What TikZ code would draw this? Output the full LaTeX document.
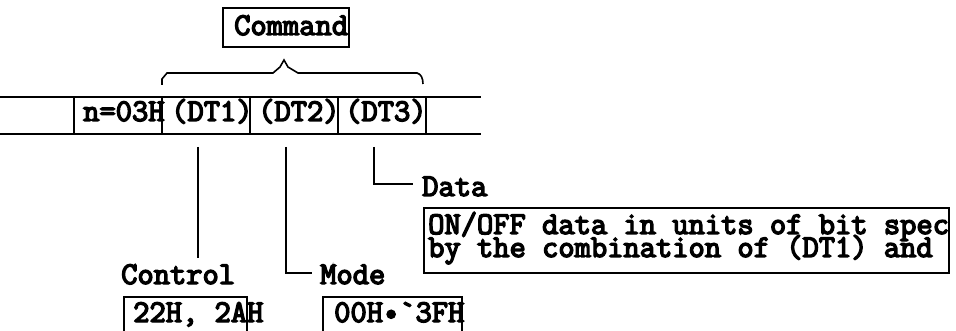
\documentclass[tikz,border=0pt]{standalone}
\usepackage{fontspec}
\newfontfamily\labelfont{Latin Modern Mono}[FakeBold=4.5]
\begin{document}
\begin{tikzpicture}[x=1pt,y=-1pt,
  every node/.style={font=\labelfont\fontsize{31.6}{24}\selectfont},
  txt/.style={anchor=base west,inner sep=0pt},
  cell/.style={draw,line width=1.6pt,minimum width=88pt,minimum height=37pt,inner sep=0pt},
  frame/.style={draw,line width=1.6pt},
  lead/.style={line width=1.6pt},
  brace/.style={line width=1.6pt}]
\useasboundingbox (0,0) rectangle (956,331);
\clip (0,0) rectangle (956,331);

% command label
\draw[frame] (223,8) rectangle (349,47);
\node[txt] (cmd) at (234,35) {Command};

% brace over the three data bytes
\draw[brace] (162,85) -- (162,79) -- (167,73) -- (273,73) -- (280,67) -- (284,60)
  -- (288,67) -- (298,73) -- (417,73) .. controls (421,74) and (423,78) .. (423,84);

% frame row
\draw[lead] (0,97) -- (481,97);
\draw[lead] (0,134) -- (481,134);
\node[cell] (c0) at (118,115.5) {};
\node[cell] (c1) at (206,115.5) {};
\node[cell] (c2) at (294,115.5) {};
\node[cell] (c3) at (382,115.5) {};
\node[txt] (n) at (83,121) {n=03H};
\node[txt] (dt1) at (171,121) {(DT1)};
\node[txt] (dt2) at (258,121) {(DT2)};
\node[txt] (dt3) at (345,121) {(DT3)};

% leader lines
\coordinate (ctlTop) at (198,147);
\coordinate (ctlEnd) at (198,258);
\coordinate (modeTop) at (286,147);
\coordinate (modeEnd) at (312,273);
\coordinate (dataTop) at (374,147);
\coordinate (dataEnd) at (413,184);
\draw[lead] (ctlTop) -- (ctlEnd);
\draw[lead] (modeTop) |- (modeEnd);
\draw[lead] (dataTop) |- (dataEnd);

% data description
\node[txt] (data) at (422,196) {Data};
\draw[frame] (424,208) rectangle (949,273);
\node[txt,text height=17pt,text depth=4pt] (d1) at (428,234) {ON/OFF data in units of bit spec};
\node[txt,text height=17pt,text depth=4pt] (d2) at (428,257) {by the combination of (DT1) and};

% control and mode values
\node[txt] (ctl) at (121,284) {Control};
\draw[frame] (124,297) rectangle (247,345);
\node[txt] (ctlv) at (133,322) {22H, 2AH};
\node[txt] (mode) at (320,284) {Mode};
\draw[frame] (323,297) rectangle (462,345);
\node[txt] (modev) at (334,322) {00H•`3FH};
\end{tikzpicture}
\end{document}
